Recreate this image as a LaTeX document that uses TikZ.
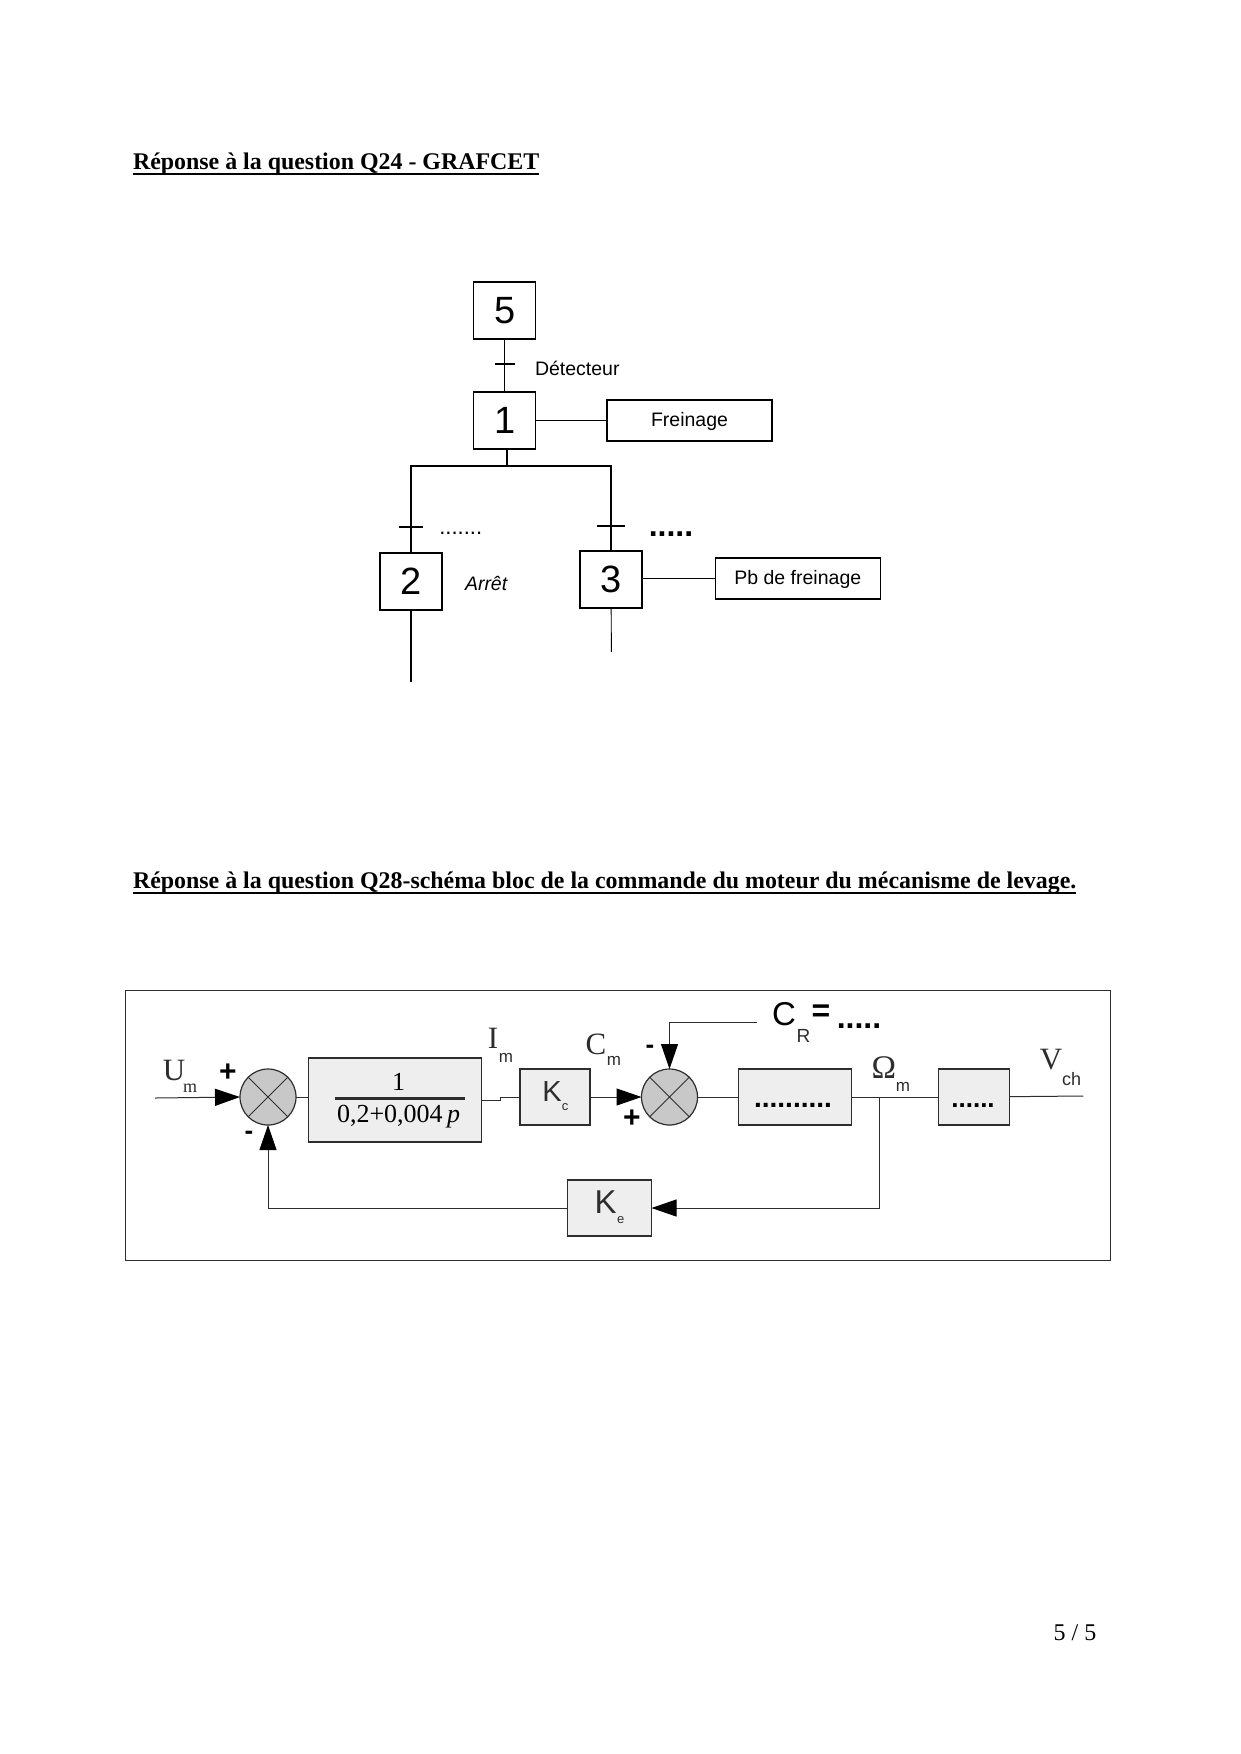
\documentclass[tikz,border=0pt]{standalone}
\usepackage{fontspec}
\usepackage{xcolor}
\setmainfont{Liberation Serif}
\setsansfont{Liberation Sans}
\usetikzlibrary{arrows.meta, positioning}
\definecolor{blocgray}{RGB}{238, 238, 238}
\definecolor{sumgray}{RGB}{200, 200, 200}
\definecolor{traitgray}{RGB}{45, 45, 45}
\newcommand{\fs}[1]{\fontsize{#1pt}{#1pt}\selectfont}

\begin{document}
\begin{tikzpicture}[
        x=1pt, y=-1pt,
        every node/.style={outer sep=0pt, inner sep=0pt},
        etape/.style={rectangle, draw=black, line width=1.4pt, minimum width=62pt, minimum height=57pt, font=\sffamily\fs{38}},
        action/.style={rectangle, draw=black, line width=1.4pt, minimum width=165pt, minimum height=41pt, text height=14pt, text depth=2pt, font=\sffamily\fs{19.5}},
        liaison/.style={draw=black, line width=1.4pt},
        titre/.style={anchor=base west, font=\rmfamily\bfseries\fs{23.9}},
        soulign/.style={draw=black, line width=1.8pt},
        bloc/.style={rectangle, draw=traitgray, fill=blocgray, line width=1.2pt, minimum height=56pt},
        sumnode/.style={circle, draw=traitgray, fill=sumgray, line width=1.2pt, minimum size=56pt},
        fil/.style={draw=traitgray, line width=1pt},
        arrow/.style={-{Triangle[length=25pt, width=17pt, color=black]}, fil},
        serif/.style={font=\rmfamily\fs{#1}, text=traitgray},
        sans/.style={font=\sffamily\fs{#1}, text=traitgray},
        signe/.style={font=\sffamily\bfseries\fs{#1}, text=black},
        points/.style={anchor=base, font=\sffamily\bfseries\fs{#1}}
    ]
        \useasboundingbox (0,0) rectangle (1240,1754);
        \fill[white] (0,0) rectangle (1240,1754);

        % titres
        \node[titre] (titreA) at (133,169.5) {Réponse à la question Q24 - GRAFCET};
        \node[titre] (titreB) at (133,888.5) {Réponse à la question Q28-schéma bloc de la commande du moteur du mécanisme de levage.};
        \draw[soulign] ([yshift=-4.5pt]titreA.base west) -- ([yshift=-4.5pt]titreA.base east);
        \draw[soulign] ([yshift=-4.5pt]titreB.base west) -- ([yshift=-4.5pt]titreB.base east);
        \node[font=\rmfamily\fs{24}] (page) at (1075,1633) {5 / 5};

        % grafcet
        \node[etape] (e5) at (504.6,310.5) {5};
        \node[etape, below=53pt of e5] (e1) {1};
        \node[action, right=71.4pt of e1] (freinage) {Freinage};
        \node[etape] (e2) at (411,581.5) {2};
        \node[etape, right=138pt of e2, yshift=2pt] (e3) {3};
        \node[action, right=73.3pt of e3, yshift=1pt] (pb) {Pb de freinage};
        \node[anchor=west, font=\sffamily\fs{19.5}] (detect) at (535,368) {Détecteur};
        \node[anchor=west, font=\sffamily\itshape\fs{19.5}] (arret) at (465,583) {Arrêt};
        \node[points=18, font=\sffamily\fs{22}] (pointsA) at (460.7,534) {.......};
        \node[points=32] (pointsB) at (671,536) {.....};
        \coordinate (split) at (507,466);
        \coordinate (finA) at (411,682);
        \coordinate (finB) at (611.4,652);
        \coordinate (tickA) at (504.6,364);
        \coordinate (tickB) at (411,527);
        \coordinate (tickC) at (611.4,526);
        \draw[liaison] (e5) -- (e1);
        \draw[liaison] (e1) -- (freinage);
        \draw[liaison] ([xshift=2.4pt]e1.south) -- (split);
        \draw[liaison] (e2.north) |- (split) -| (e3.north);
        \draw[liaison] (e3.east |- pb.west) -- (pb.west);
        \draw[liaison] (e2) -- (finA);
        \draw[liaison, line width=0.9pt] (e3) -- (finB);
        \draw[liaison] ([xshift=-10pt]tickA) -- ([xshift=10pt]tickA);
        \draw[liaison] ([xshift=-12pt]tickB) -- ([xshift=12pt]tickB);
        \draw[liaison] ([xshift=-14pt]tickC) -- ([xshift=14pt]tickC);

        % schema bloc
        \node[draw=traitgray, line width=1pt, minimum width=985pt, minimum height=270pt] (cadre) at (617.5,1125) {};
        \node[sumnode] (sumA) at (268,1097) {};
        \node[bloc, minimum width=173pt, minimum height=84pt] (blocF) at (395,1100) {};
        \node[bloc, minimum width=70pt, right=38.5pt of blocF, yshift=3pt] (blocK) {};
        \node[sumnode] (sumB) at (669.5,1097) {};
        \node[bloc, minimum width=113pt, right=41pt of sumB] (blocG) {};
        \node[bloc, minimum width=71pt, right=87pt of blocG] (blocH) {};
        \node[bloc, minimum width=84pt] (blocE) at (609.5,1208) {};
        \foreach \s in {sumA, sumB} {
            \draw[fil] (\s.45) -- (\s.225) (\s.135) -- (\s.315);
        }
        \node[font=\rmfamily\fs{26}] (num) at (398.6,1082) {1};
        \node[font=\rmfamily\fs{26}] (den) at (398.5,1117) {0,2+0,004\,\textit{p}};
        \draw[line width=3.5pt, draw=traitgray] (335,1098.5) -- (464.6,1098.5);
        \node[sans=29] (kcK) at (552,1092) {K};
        \node[sans=13] (kcC) at (565,1107) {c};
        \node[sans=33] (keK) at (605.7,1202) {K};
        \node[sans=13] (keE) at (620.7,1220) {e};
        \node[points=28] (pointsG) at (793,1107) {..........};
        \node[points=26] (pointsH) at (973,1107) {......};

        \coordinate (entree) at (155,1098);
        \coordinate (sortie) at (1083.4,1096);
        \coordinate (charge) at (757,1022);
        \coordinate (branche) at (879,1097);
        \draw[arrow] (entree) -- (sumA.west);
        \draw[fil] (sumA.east) -- (sumA.east -| blocF.west);
        \draw[fil] (blocF.east) -- ++(19,0) |- (blocK.west);
        \draw[arrow] (blocK.east) -- (sumB.west);
        \draw[arrow] (charge) -| (sumB.north);
        \draw[fil] (sumB.east) -- (blocG.west);
        \draw[fil] (blocG) -- (blocH);
        \draw[fil] (blocH) -- (sortie);
        \draw[arrow] (branche) |- (blocE.east);
        \draw[arrow] (blocE.west) -| (sumA.south);

        % etiquettes
        \node[serif=31] (um) at (174,1070) {U};
        \node[serif=18] (umm) at (190,1088) {m};
        \node[signe=30] (plusA) at (228,1073) {+};
        \node[signe=26] (moinsA) at (249,1135) {-};
        \node[serif=31] (im) at (493,1038) {I};
        \node[sans=17] (imm) at (506,1058) {m};
        \node[serif=31] (cm) at (596,1044) {C};
        \node[sans=17] (cmm) at (614,1061) {m};
        \node[signe=26] (moinsB) at (650,1049) {-};
        \node[signe=30] (plusB) at (632,1119) {+};
        \node[font=\sffamily\fs{33}] (cr) at (784,1014) {C};
        \node[sans=19] (crr) at (803.5,1036) {R};
        \node[font=\sffamily\bfseries\fs{32}] (egal) at (821,1013) {=};
        \node[points=32] (pointsC) at (859,1028) {.....};
        \node[serif=33] (om) at (884,1068) {Ω};
        \node[sans=17] (omm) at (903,1087) {m};
        \node[serif=31] (vch) at (1051,1060) {V};
        \node[sans=18] (vchh) at (1071.6,1079) {ch};
    \end{tikzpicture}
\end{document}
